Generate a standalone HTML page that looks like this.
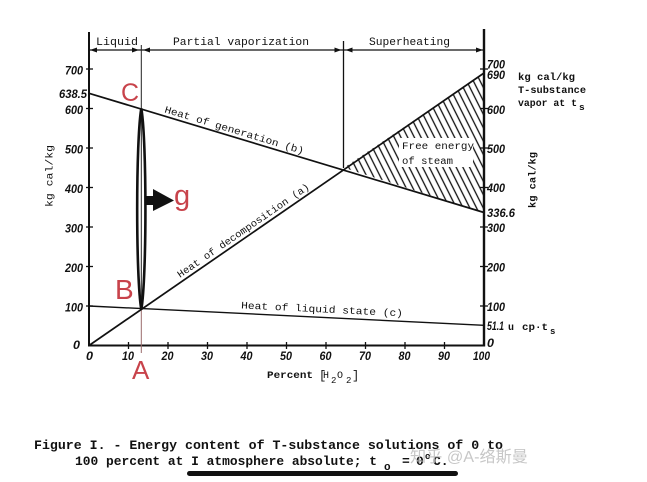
<!DOCTYPE html>
<html>
<head>
<meta charset="utf-8">
<style>
html,body{margin:0;padding:0;background:#fff;}
svg{display:block;}
.tk{font-family:"Liberation Sans",sans-serif;font-weight:bold;font-style:italic;font-size:11.5px;fill:#111;}
.mono{font-family:"Liberation Mono",monospace;fill:#111;}
.red{font-family:"Liberation Sans",sans-serif;fill:#c8434b;}
</style>
</head>
<body>
<svg width="647" height="482" viewBox="0 0 647 482" xmlns="http://www.w3.org/2000/svg">
<defs>
  <pattern id="hatch" patternUnits="userSpaceOnUse" width="6" height="10" patternTransform="rotate(-26.6)">
    <line x1="3" y1="-2" x2="3" y2="12" stroke="#111" stroke-width="1.3"/>
  </pattern>
</defs>

<!-- hatched triangle -->
<polygon points="343.8,167.8 484,73 484,212.5" fill="url(#hatch)"/>
<rect x="399" y="138" width="74" height="29" fill="#fff"/>
<text class="mono" x="402" y="149" font-size="10" textLength="72" lengthAdjust="spacingAndGlyphs">Free energy</text>
<text class="mono" x="402" y="164" font-size="10" textLength="51" lengthAdjust="spacingAndGlyphs">of steam</text>

<!-- axes -->
<line x1="89" y1="32" x2="89" y2="346.5" stroke="#111" stroke-width="2"/>
<line x1="484" y1="29" x2="484" y2="346.5" stroke="#111" stroke-width="2.4"/>
<line x1="88" y1="345.5" x2="485" y2="345.5" stroke="#111" stroke-width="2"/>

<!-- header arrows -->
<line x1="89" y1="50" x2="484" y2="50" stroke="#111" stroke-width="1.3"/>
<line x1="343.5" y1="41" x2="343.5" y2="168" stroke="#111" stroke-width="1.3"/>
<g fill="#111">
  <polygon points="90,50 97,47.5 97,52.5"/>
  <polygon points="139,50 132,47.5 132,52.5"/>
  <polygon points="143,50 150,47.5 150,52.5"/>
  <polygon points="341.5,50 334.5,47.5 334.5,52.5"/>
  <polygon points="345.5,50 352.5,47.5 352.5,52.5"/>
  <polygon points="483,50 476,47.5 476,52.5"/>
</g>
<text class="mono" x="96" y="45" font-size="11" textLength="42" lengthAdjust="spacingAndGlyphs">Liquid</text>
<text class="mono" x="173" y="45" font-size="11" textLength="136" lengthAdjust="spacingAndGlyphs">Partial vaporization</text>
<text class="mono" x="369" y="45" font-size="11" textLength="81" lengthAdjust="spacingAndGlyphs">Superheating</text>

<!-- vertical 13.3% line -->
<line x1="141.3" y1="45" x2="141.3" y2="310" stroke="#222" stroke-width="1"/>
<line x1="141.3" y1="310" x2="141.3" y2="353" stroke="#9a6a6a" stroke-width="1"/>

<!-- data lines -->
<line x1="89" y1="93.3" x2="484" y2="212.5" stroke="#111" stroke-width="1.7"/>
<line x1="89" y1="345.5" x2="484" y2="73" stroke="#111" stroke-width="1.7"/>
<line x1="89" y1="306" x2="484" y2="325.3" stroke="#111" stroke-width="1.4"/>

<!-- line labels -->
<text class="mono" font-size="10" transform="translate(164,112.2) rotate(16.8)" textLength="145" lengthAdjust="spacingAndGlyphs">Heat of generation (b)</text>
<text class="mono" font-size="10" transform="translate(180,278) rotate(-34.6)" textLength="158" lengthAdjust="spacingAndGlyphs">Heat of decomposition (a)</text>
<text class="mono" font-size="10" transform="translate(241,308.4) rotate(2.8)" textLength="162" lengthAdjust="spacingAndGlyphs">Heat of liquid state (c)</text>

<!-- ellipse -->
<path d="M141.3,108.5 C135.8,140 135.8,278 141.3,309.5 C146.8,278 146.8,140 141.3,108.5 Z" fill="none" stroke="#111" stroke-width="2.6"/>

<!-- arrow to g -->
<rect x="146" y="196" width="9" height="9" fill="#111"/>
<polygon points="153,189 174,200.5 153,211" fill="#111"/>

<!-- red letters -->
<text class="red" x="121" y="101" font-size="25">C</text>
<text class="red" x="115" y="299" font-size="28">B</text>
<text class="red" x="132" y="379" font-size="26">A</text>
<text class="red" x="174" y="205" font-size="29">g</text>

<!-- left ticks -->
<g stroke="#111" stroke-width="1.3">
  <line x1="86" y1="69" x2="93" y2="69"/>
  <line x1="86" y1="108.5" x2="93" y2="108.5"/>
  <line x1="86" y1="148" x2="93" y2="148"/>
  <line x1="86" y1="187.5" x2="93" y2="187.5"/>
  <line x1="86" y1="227" x2="93" y2="227"/>
  <line x1="86" y1="266.5" x2="93" y2="266.5"/>
  <line x1="86" y1="306" x2="93" y2="306"/>
  <!-- right ticks -->
  <line x1="480" y1="69" x2="488" y2="69"/>
  <line x1="480" y1="108.5" x2="488" y2="108.5"/>
  <line x1="480" y1="148" x2="488" y2="148"/>
  <line x1="480" y1="187.5" x2="488" y2="187.5"/>
  <line x1="480" y1="227" x2="488" y2="227"/>
  <line x1="480" y1="266.5" x2="488" y2="266.5"/>
  <line x1="480" y1="306" x2="488" y2="306"/>
  <!-- x ticks -->
  <line x1="128.5" y1="342" x2="128.5" y2="349"/>
  <line x1="168" y1="342" x2="168" y2="349"/>
  <line x1="207.5" y1="342" x2="207.5" y2="349"/>
  <line x1="247" y1="342" x2="247" y2="349"/>
  <line x1="286.5" y1="342" x2="286.5" y2="349"/>
  <line x1="326" y1="342" x2="326" y2="349"/>
  <line x1="365.5" y1="342" x2="365.5" y2="349"/>
  <line x1="405" y1="342" x2="405" y2="349"/>
  <line x1="444.5" y1="342" x2="444.5" y2="349"/>
</g>

<!-- left tick labels -->
<text class="tk" x="65" y="74.5" textLength="18" lengthAdjust="spacingAndGlyphs">700</text>
<text class="tk" x="59" y="98" textLength="28" lengthAdjust="spacingAndGlyphs">638.5</text>
<text class="tk" x="65" y="114" textLength="18" lengthAdjust="spacingAndGlyphs">600</text>
<text class="tk" x="65" y="153.5" textLength="18" lengthAdjust="spacingAndGlyphs">500</text>
<text class="tk" x="65" y="193" textLength="18" lengthAdjust="spacingAndGlyphs">400</text>
<text class="tk" x="65" y="232.5" textLength="18" lengthAdjust="spacingAndGlyphs">300</text>
<text class="tk" x="65" y="272" textLength="18" lengthAdjust="spacingAndGlyphs">200</text>
<text class="tk" x="65" y="311.5" textLength="18" lengthAdjust="spacingAndGlyphs">100</text>
<text class="tk" x="73" y="349" textLength="7" lengthAdjust="spacingAndGlyphs">0</text>

<!-- right tick labels -->
<text class="tk" x="487" y="68.5" textLength="18" lengthAdjust="spacingAndGlyphs">700</text>
<text class="tk" x="487" y="79" textLength="18" lengthAdjust="spacingAndGlyphs">690</text>
<text class="tk" x="487" y="114" textLength="18" lengthAdjust="spacingAndGlyphs">600</text>
<text class="tk" x="487" y="153" textLength="18" lengthAdjust="spacingAndGlyphs">500</text>
<text class="tk" x="487" y="192" textLength="18" lengthAdjust="spacingAndGlyphs">400</text>
<text class="tk" x="487" y="217" textLength="28" lengthAdjust="spacingAndGlyphs">336.6</text>
<text class="tk" x="487" y="232" textLength="18" lengthAdjust="spacingAndGlyphs">300</text>
<text class="tk" x="487" y="271.5" textLength="18" lengthAdjust="spacingAndGlyphs">200</text>
<text class="tk" x="487" y="311" textLength="18" lengthAdjust="spacingAndGlyphs">100</text>
<text class="tk" x="487" y="330" textLength="17" lengthAdjust="spacingAndGlyphs">51.1</text>
<text class="tk" x="487" y="347" textLength="7" lengthAdjust="spacingAndGlyphs">0</text>
<text class="mono" x="508" y="330" font-size="10" font-weight="bold">u</text>
<text class="mono" x="522" y="330" font-size="10" font-weight="bold" textLength="26" lengthAdjust="spacingAndGlyphs">cp·t</text>
<text class="mono" x="550" y="334" font-size="9" font-weight="bold">s</text>

<!-- x tick labels -->
<text class="tk" x="86" y="360" textLength="7" lengthAdjust="spacingAndGlyphs">0</text>
<text class="tk" x="122" y="360" textLength="12" lengthAdjust="spacingAndGlyphs">10</text>
<text class="tk" x="161.5" y="360" textLength="12" lengthAdjust="spacingAndGlyphs">20</text>
<text class="tk" x="201" y="360" textLength="12" lengthAdjust="spacingAndGlyphs">30</text>
<text class="tk" x="240.5" y="360" textLength="12" lengthAdjust="spacingAndGlyphs">40</text>
<text class="tk" x="280" y="360" textLength="12" lengthAdjust="spacingAndGlyphs">50</text>
<text class="tk" x="319.5" y="360" textLength="12" lengthAdjust="spacingAndGlyphs">60</text>
<text class="tk" x="359" y="360" textLength="12" lengthAdjust="spacingAndGlyphs">70</text>
<text class="tk" x="398.5" y="360" textLength="12" lengthAdjust="spacingAndGlyphs">80</text>
<text class="tk" x="438" y="360" textLength="12" lengthAdjust="spacingAndGlyphs">90</text>
<text class="tk" x="473" y="360" textLength="17" lengthAdjust="spacingAndGlyphs">100</text>

<!-- x axis title -->
<text class="mono" x="267" y="378" font-size="10.5" font-weight="bold" textLength="46" lengthAdjust="spacingAndGlyphs">Percent</text>
<text class="mono" x="319" y="379" font-size="12">[</text>
<text class="mono" x="323" y="378" font-size="10">H</text>
<text class="mono" x="331" y="383" font-size="9">2</text>
<text class="mono" x="337" y="378" font-size="10">O</text>
<text class="mono" x="346" y="383" font-size="9">2</text>
<text class="mono" x="352" y="379" font-size="12">]</text>

<!-- y axis titles -->
<text class="mono" font-size="10" transform="translate(52.5,176) rotate(-90)" text-anchor="middle" textLength="62" lengthAdjust="spacingAndGlyphs">kg cal/kg</text>
<text class="mono" font-size="10" font-weight="bold" transform="translate(535.5,180) rotate(-90)" text-anchor="middle" textLength="56" lengthAdjust="spacingAndGlyphs">kg cal/kg</text>

<!-- right upper legend -->
<text class="mono" x="518" y="80" font-size="10.5" font-weight="bold" textLength="57" lengthAdjust="spacingAndGlyphs">kg cal/kg</text>
<text class="mono" x="518" y="93" font-size="10.5" font-weight="bold" textLength="68" lengthAdjust="spacingAndGlyphs">T-substance</text>
<text class="mono" x="518" y="106" font-size="10.5" font-weight="bold" textLength="59" lengthAdjust="spacingAndGlyphs">vapor at t</text>
<text class="mono" x="579" y="110" font-size="9.5" font-weight="bold">s</text>

<!-- caption -->
<text class="mono" x="34" y="449" font-size="13" font-weight="bold" textLength="469" lengthAdjust="spacingAndGlyphs">Figure I. - Energy content of T-substance solutions of 0 to</text>
<text class="mono" x="75" y="465" font-size="13" font-weight="bold" textLength="302" lengthAdjust="spacingAndGlyphs">100 percent at I atmosphere absolute; t</text>
<text class="mono" x="384" y="470" font-size="11" font-weight="bold">o</text>
<text class="mono" x="402" y="465" font-size="13" font-weight="bold">=</text>
<text class="mono" x="416" y="465" font-size="13" font-weight="bold">0</text>
<text class="mono" x="425" y="459" font-size="9" font-weight="bold">o</text>
<text class="mono" x="433" y="465" font-size="13" font-weight="bold">C.</text>

<!-- watermark -->
<text x="410" y="462" font-family="'Liberation Sans','Noto Sans CJK SC',sans-serif" font-size="16" fill="#bdbdbd" fill-opacity="0.85" textLength="118" lengthAdjust="spacingAndGlyphs">知乎 @A-络斯曼</text>

<!-- black bar -->
<rect x="187" y="471" width="271" height="5" rx="2.5" fill="#111"/>
</svg>
</body>
</html>
